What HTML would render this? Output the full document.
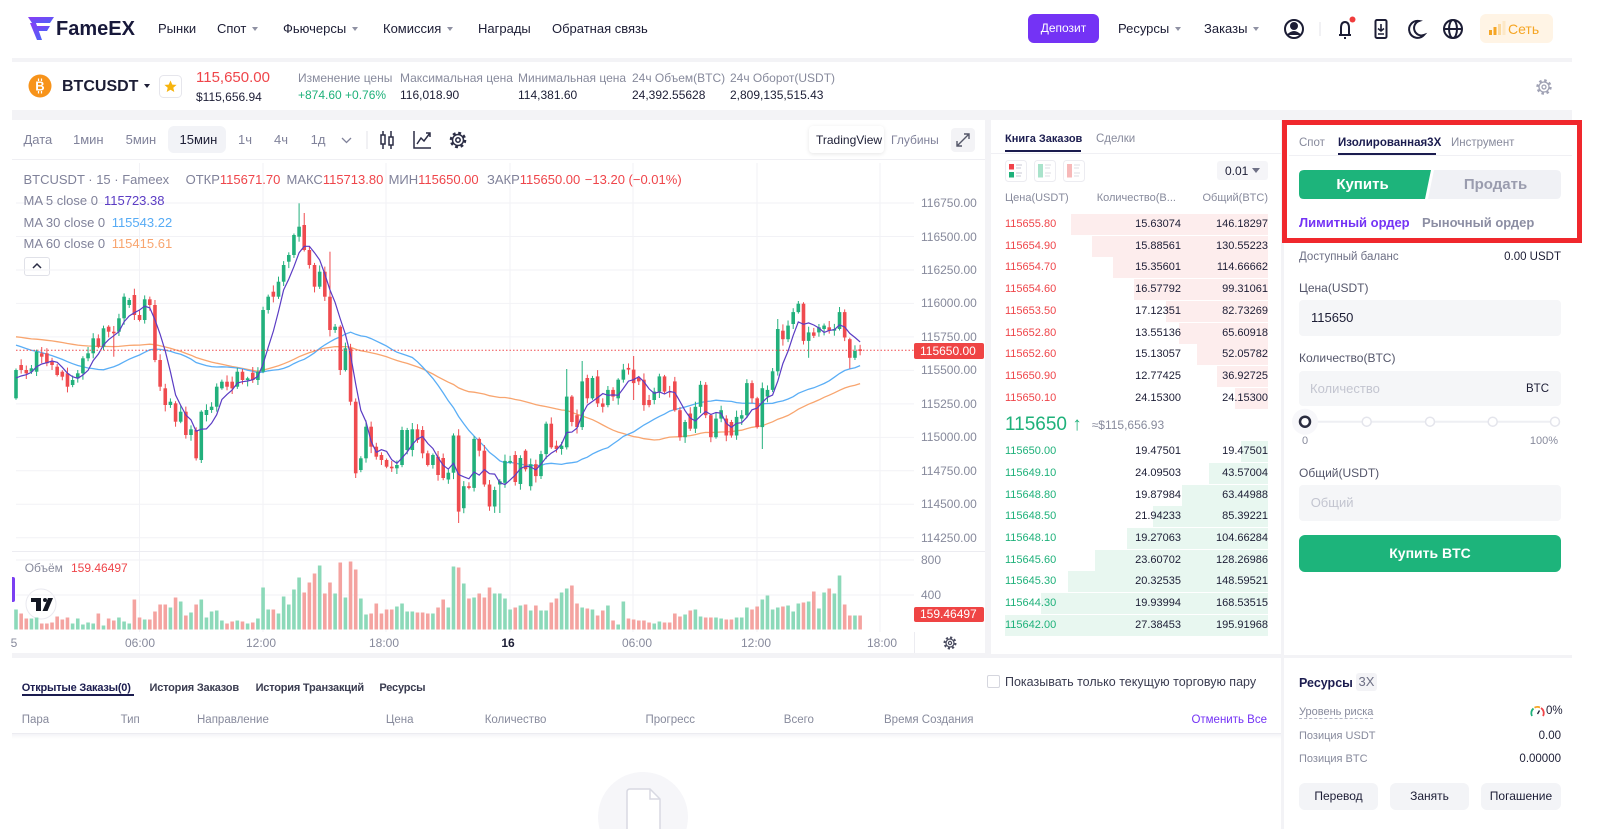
<!DOCTYPE html>
<html lang="ru"><head><meta charset="utf-8"><title>FameEX BTCUSDT</title>
<style>
*{margin:0;padding:0;box-sizing:border-box}
html,body{width:1600px;height:829px;overflow:hidden;background:#fff}
body{position:relative;font-family:"Liberation Sans","DejaVu Sans",sans-serif;color:#1c1d35;font-size:12px}
.a{position:absolute;white-space:nowrap;line-height:20px;height:20px}
.p{position:absolute}
.g{color:#878a9c}
.r{color:#ef454a}
.gr{color:#1eb17a}
.b{font-weight:bold}
.cr{display:inline-block;width:0;height:0;border-left:3.5px solid transparent;border-right:3.5px solid transparent;border-top:4.5px solid #8f91a3;vertical-align:middle;margin-left:6px;margin-top:-2px}
.row{position:absolute;left:1005px;width:263px;height:21px;font-size:11px;line-height:21px}
.row span{position:absolute;top:0}
.row .bar{position:absolute;top:0;height:21px;right:0}
.tc{position:absolute;width:40px;text-align:center;top:633px;line-height:20px;font-size:12px;color:#878a9c}
.btn{position:absolute;background:#f3f4f7;border-radius:6px;text-align:center;font-size:12px;line-height:27px;height:27px;top:783px;color:#1c1d35}
.inp{position:absolute;left:1299px;width:262px;background:#f5f6f8;border-radius:4px}
</style></head><body>

<!-- background panels -->
<div class="p" style="left:12px;top:58px;width:1560px;height:771px;background:#f3f3f6"></div>
<div class="p" style="left:12px;top:62px;width:1560px;height:48px;background:#fff"></div>
<div class="p" style="left:12px;top:120px;width:973px;height:533px;background:#fff"></div>
<div class="p" style="left:991px;top:120px;width:290px;height:534px;background:#fff"></div>
<div class="p" style="left:1284px;top:120px;width:288px;height:535px;background:#fff"></div>
<div class="p" style="left:12px;top:658px;width:1269px;height:171px;background:#fff"></div>
<div class="p" style="left:1284px;top:658px;width:288px;height:171px;background:#fff"></div>

<!-- boxes -->
<div class="p" style="left:1028px;top:14px;width:71px;height:29px;background:#7433f5;border-radius:6px;color:#fff;font-size:12px;line-height:29px;text-align:center">Депозит</div>
<div class="p" style="left:1480px;top:14px;width:73px;height:29px;background:#fff4e5;border-radius:6px"></div>
<div class="p" style="left:168px;top:126px;width:58px;height:27px;background:#f2f3f7;border-radius:6px"></div>
<div class="p" style="left:809px;top:126px;width:75px;height:27px;background:#fff;border-radius:4px;box-shadow:0 1px 4px rgba(0,0,0,.10)"></div>
<div class="p" style="left:951px;top:128px;width:24px;height:24px;background:#f3f3f6;border-radius:4px"></div>
<div class="p" style="left:12px;top:159px;width:973px;height:1px;background:#efeff3"></div>
<div class="p" style="left:24px;top:257px;width:26px;height:19px;border:1px solid #e0e1e8;border-radius:3px;background:#fff"></div>
<div class="p" style="left:12px;top:577px;width:3px;height:25px;background:#7b3ff2;border-radius:0 2px 2px 0"></div>
<div class="p" style="left:914px;top:632px;width:1px;height:21px;background:#ececf1"></div>

<div class="p" style="left:1005px;top:150px;width:76px;height:2px;background:#1b1c4f"></div>
<div class="p" style="left:991px;top:153px;width:290px;height:1px;background:#f0f0f4"></div>
<div class="p" style="left:1217px;top:161px;width:51px;height:19px;background:#f5f5f8;border-radius:3px"></div>

<div class="p" style="left:1338px;top:153px;width:98px;height:2px;background:#1b1c4f"></div>
<div class="p" style="left:1289px;top:155px;width:283px;height:1px;background:#f0f0f4"></div>
<div class="inp" style="top:300px;height:36px"></div>
<div class="inp" style="top:371px;height:35px"></div>
<div class="inp" style="top:485px;height:36px"></div>
<div class="p" style="left:1299px;top:535px;width:262px;height:37px;background:#1db47b;border-radius:6px;color:#fff;font-weight:bold;font-size:14px;line-height:37px;text-align:center">Купить BTC</div>

<div class="p" style="left:1356px;top:673px;width:21px;height:18px;background:#f3f3f6;border-radius:3px;color:#6e7085;font-size:13px;line-height:18px;text-align:center">3X</div>
<div class="p" style="left:1299px;top:718px;width:74px;height:0;border-top:1px dashed #b4b6c5"></div>
<div class="btn" style="left:1299px;width:79px">Перевод</div>
<div class="btn" style="left:1390px;width:79px">Занять</div>
<div class="btn" style="left:1481px;width:80px">Погашение</div>

<div class="p" style="left:22px;top:694px;width:112px;height:2px;background:#1b1c4f"></div>
<div class="p" style="left:987px;top:675px;width:13px;height:13px;border:1px solid #d5d6de;border-radius:2px;background:#fff"></div>
<div class="p" style="left:12px;top:733px;width:1269px;height:1px;background:#ececf1"></div>
<div class="p" style="left:12px;top:734px;width:1269px;height:5px;background:linear-gradient(#f4f4f7,#fff)"></div>

<!-- order book depth rows -->
<div class="row" style="top:213.8px"><div class="bar" style="left:66px;background:#fdeded"></div><span class="r" style="left:0">115655.80</span><span style="right:87px">15.63074</span><span style="right:0">146.18297</span></div>
<div class="row" style="top:235.55px"><div class="bar" style="left:87px;background:#fdeded"></div><span class="r" style="left:0">115654.90</span><span style="right:87px">15.88561</span><span style="right:0">130.55223</span></div>
<div class="row" style="top:257.3px"><div class="bar" style="left:108px;background:#fdeded"></div><span class="r" style="left:0">115654.70</span><span style="right:87px">15.35601</span><span style="right:0">114.66662</span></div>
<div class="row" style="top:279.05px"><div class="bar" style="left:129px;background:#fdeded"></div><span class="r" style="left:0">115654.60</span><span style="right:87px">16.57792</span><span style="right:0">99.31061</span></div>
<div class="row" style="top:300.8px"><div class="bar" style="left:161px;background:#fdeded"></div><span class="r" style="left:0">115653.50</span><span style="right:87px">17.12351</span><span style="right:0">82.73269</span></div>
<div class="row" style="top:322.55px"><div class="bar" style="left:174px;background:#fdeded"></div><span class="r" style="left:0">115652.80</span><span style="right:87px">13.55136</span><span style="right:0">65.60918</span></div>
<div class="row" style="top:344.3px"><div class="bar" style="left:192px;background:#fdeded"></div><span class="r" style="left:0">115652.60</span><span style="right:87px">15.13057</span><span style="right:0">52.05782</span></div>
<div class="row" style="top:366.05px"><div class="bar" style="left:212px;background:#fdeded"></div><span class="r" style="left:0">115650.90</span><span style="right:87px">12.77425</span><span style="right:0">36.92725</span></div>
<div class="row" style="top:387.8px"><div class="bar" style="left:230px;background:#fdeded"></div><span class="r" style="left:0">115650.10</span><span style="right:87px">24.15300</span><span style="right:0">24.15300</span></div>

<div class="row" style="top:441.2px"><div class="bar" style="left:236px;background:#e8f7f0"></div><span class="gr" style="left:0">115650.00</span><span style="right:87px">19.47501</span><span style="right:0">19.47501</span></div>
<div class="row" style="top:462.9px"><div class="bar" style="left:204px;background:#e8f7f0"></div><span class="gr" style="left:0">115649.10</span><span style="right:87px">24.09503</span><span style="right:0">43.57004</span></div>
<div class="row" style="top:484.6px"><div class="bar" style="left:177px;background:#e8f7f0"></div><span class="gr" style="left:0">115648.80</span><span style="right:87px">19.87984</span><span style="right:0">63.44988</span></div>
<div class="row" style="top:506.3px"><div class="bar" style="left:148px;background:#e8f7f0"></div><span class="gr" style="left:0">115648.50</span><span style="right:87px">21.94233</span><span style="right:0">85.39221</span></div>
<div class="row" style="top:528px"><div class="bar" style="left:122px;background:#e8f7f0"></div><span class="gr" style="left:0">115648.10</span><span style="right:87px">19.27063</span><span style="right:0">104.66284</span></div>
<div class="row" style="top:549.7px"><div class="bar" style="left:90px;background:#e8f7f0"></div><span class="gr" style="left:0">115645.60</span><span style="right:87px">23.60702</span><span style="right:0">128.26986</span></div>
<div class="row" style="top:571.4px"><div class="bar" style="left:63px;background:#e8f7f0"></div><span class="gr" style="left:0">115645.30</span><span style="right:87px">20.32535</span><span style="right:0">148.59521</span></div>
<div class="row" style="top:593.1px"><div class="bar" style="left:36px;background:#e8f7f0"></div><span class="gr" style="left:0">115644.30</span><span style="right:87px">19.93994</span><span style="right:0">168.53515</span></div>
<div class="row" style="top:614.8px"><div class="bar" style="left:0;background:#e8f7f0"></div><span class="gr" style="left:0">115642.00</span><span style="right:87px">27.38453</span><span style="right:0">195.91968</span></div>

<!-- SVG overlay: icons + chart -->
<svg class="p" style="left:0;top:0" width="1600" height="829" viewBox="0 0 1600 829" xmlns="http://www.w3.org/2000/svg">
<defs><linearGradient id="lg" x1="0" y1="0" x2="1" y2="1"><stop offset="0" stop-color="#8a3cf5"/><stop offset="1" stop-color="#4b63f7"/></linearGradient></defs>
<!-- logo -->
<polygon points="28,17 54,17 50,23 32,23" fill="url(#lg)"/>
<polygon points="34,26 50,26 47,31 37,31" fill="url(#lg)"/>
<polygon points="30,23 36,23 42,40 37,40" fill="url(#lg)"/>
<!-- nav icons -->
<g fill="none" stroke="#1c1d35" stroke-width="2">
<circle cx="1294" cy="29" r="9"/>
<circle cx="1294" cy="26" r="3" fill="#1c1d35"/>
<path d="M1288 35 Q1294 29 1300 35" fill="#1c1d35"/>
<path d="M1339 35 H1351 M1341 35 V28 Q1341 22 1345 22 Q1349 22 1349 28 V35 M1345 37 V39"/>
<rect x="1375.5" y="20" width="11" height="18" rx="1.5"/>
<path d="M1381 24 V31 M1378 28.5 L1381 31 L1384 28.5 M1378 34 H1384" stroke-width="1.6"/>
<path d="M1419 21 A8.5 8.5 0 1 0 1424 35 A7 7 0 0 1 1419 21 Z"/>
<circle cx="1453" cy="29" r="9"/>
<ellipse cx="1453" cy="29" rx="4" ry="9"/>
<path d="M1444 29 H1462"/>
</g>
<line x1="1320" y1="22" x2="1320" y2="36" stroke="#e3e3ea"/>
<circle cx="1352.5" cy="19.5" r="3" fill="#f03c3c"/>
<rect x="1489" y="30" width="3" height="5" fill="#f5a524"/>
<rect x="1493.5" y="27" width="3" height="8" fill="#f5a524"/>
<rect x="1498" y="24" width="3" height="11" fill="#fbd9a0"/>
<rect x="1502.5" y="21" width="3" height="14" fill="#fde8c6"/>
<!-- ticker -->
<circle cx="40" cy="86" r="11.5" fill="#f7931a"/>
<text x="40" y="90.5" font-family="Liberation Sans" font-weight="bold" font-size="13" fill="#fff" text-anchor="middle">B</text>
<path d="M38.5 78.5 V81 M41.5 78.5 V81 M38.5 91 V93.5 M41.5 91 V93.5" stroke="#fff" stroke-width="1.2"/>
<rect x="159.5" y="75.5" width="22" height="22" rx="4" fill="#fff" stroke="#e6e6ec"/>
<polygon points="170.5,80.5 172.3,84.6 176.6,84.9 173.3,87.7 174.3,92 170.5,89.7 166.7,92 167.7,87.7 164.4,84.9 168.7,84.6" fill="#f6b40e"/>
<g transform="translate(1544,87)" fill="none" stroke="#a0a2b4">
<circle r="6.5" stroke-width="2.4" stroke-dasharray="2.5 2.6"/><circle r="5" stroke-width="1.3"/><circle r="2" stroke-width="1.3"/></g>
<!-- toolbar icons -->
<path d="M342 138 L346.5 142.5 L351 138" fill="none" stroke="#80829a" stroke-width="1.3"/>
<line x1="367" y1="131" x2="367" y2="149" stroke="#e3e3ea"/>
<g stroke="#2b2d45" stroke-width="1.5" fill="#fff">
<line x1="383" y1="131" x2="383" y2="149"/><rect x="381" y="135" width="4" height="9"/>
<line x1="391" y1="131" x2="391" y2="149"/><rect x="389" y="137" width="4" height="8"/>
<path d="M414 131 V148 H431" fill="none"/>
<path d="M417 144 L421 138 L424 141 L430 133 M426 133 H430 V137" fill="none"/>
</g>
<g transform="translate(458,140)" fill="none" stroke="#2b2d45">
<circle r="7" stroke-width="2.6" stroke-dasharray="2.8 2.7"/><circle r="5.5" stroke-width="1.5"/><circle r="2.2" stroke-width="1.5"/></g>
<path d="M957 146 L969 134 M964 134 H969 V139 M957 141 V146 H962" fill="none" stroke="#555769" stroke-width="1.4"/>
<path d="M33 268 L37 264 L41 268" fill="none" stroke="#2b2d45" stroke-width="1.5"/>
<!-- tv logo -->
<circle cx="41" cy="604" r="15" fill="#fff" stroke="#e9e9ef"/>
<rect x="31" y="598" width="10" height="4" fill="#131722"/>
<rect x="36" y="598" width="5" height="13" fill="#131722"/>
<circle cx="45" cy="600" r="2" fill="#131722"/>
<polygon points="48,598 53,598 47.5,611 42.5,611" fill="#131722"/>
<g transform="translate(950,643)" fill="none" stroke="#4a4c60">
<circle r="5.5" stroke-width="2" stroke-dasharray="2.2 2.1"/><circle r="4" stroke-width="1.2"/><circle r="1.6" stroke-width="1.2"/></g>
<!-- order book icons -->
<rect x="1005.5" y="160.5" width="21" height="21" rx="3" fill="#fff" stroke="#ececf1"/>
<rect x="1009" y="164" width="5" height="5.5" fill="#f0424a"/><rect x="1009" y="172" width="5" height="5.5" fill="#1eb17a"/>
<path d="M1016 165 H1022 M1016 168 H1021 M1016 173 H1022 M1016 176 H1021" stroke="#c9cad4"/>
<rect x="1034.5" y="160.5" width="21" height="21" rx="3" fill="#fff" stroke="#ececf1"/>
<rect x="1038" y="164" width="5" height="13.5" fill="#a9e3cb"/>
<path d="M1045 165 H1051 M1045 168 H1050 M1045 173 H1051 M1045 176 H1050" stroke="#dcdce3"/>
<rect x="1063.5" y="160.5" width="21" height="21" rx="3" fill="#fff" stroke="#ececf1"/>
<rect x="1067" y="164" width="5" height="13.5" fill="#f7b9b9"/>
<path d="M1074 165 H1080 M1074 168 H1079 M1074 173 H1080 M1074 176 H1079" stroke="#dcdce3"/>
<polygon points="1252,168 1260,168 1256,173" fill="#6e7085"/>
<!-- buy / sell -->
<path d="M1304 170 H1431 L1425 199 H1304 Q1299 199 1299 194 V175 Q1299 170 1304 170 Z" fill="#1db47b"/>
<path d="M1434 170 H1556 Q1561 170 1561 175 V194 Q1561 199 1556 199 H1428 Z" fill="#f0f1f5"/>
<!-- slider -->
<line x1="1305" y1="421.7" x2="1555" y2="421.7" stroke="#eeeff3" stroke-width="2"/>
<circle cx="1305" cy="421.7" r="13" fill="#f7f7fa"/>
<g fill="#fff" stroke="#e4e5ec" stroke-width="1.5">
<circle cx="1366.7" cy="421.7" r="4.5"/><circle cx="1430" cy="421.7" r="4.5"/><circle cx="1492.7" cy="421.7" r="4.5"/><circle cx="1555" cy="421.7" r="4.5"/></g>
<circle cx="1305" cy="421.7" r="5" fill="#fff" stroke="#2b2d40" stroke-width="2.5"/>
<!-- gauge -->
<path d="M1532 716 A6 6 0 0 1 1533.5 708.5" fill="none" stroke="#1eb17a" stroke-width="1.8"/>
<path d="M1534.5 707.7 A6 6 0 0 1 1540 707.5" fill="none" stroke="#f5a524" stroke-width="1.8"/>
<path d="M1541 708 A6 6 0 0 1 1543 716" fill="none" stroke="#ef454a" stroke-width="1.8"/>
<line x1="1537.5" y1="714" x2="1539.5" y2="710.5" stroke="#1c1d35" stroke-width="1.3"/>
<!-- empty icon -->
<circle cx="643" cy="817" r="45" fill="#f6f6f9"/>
<path d="M627 829 V792 Q627 789 630 789 H650 L660 799 V829" fill="#fff" stroke="#d8d9e2" stroke-width="1.5"/>
<path d="M650 789 V799 H660" fill="none" stroke="#d8d9e2" stroke-width="1.5"/>
<g id="ch"></g>
</svg>

<!-- NAV text -->
<div class="a b" style="left:56px;top:18px;font-size:20px;line-height:22px;height:22px;color:#17183a">FameEX</div>
<div class="a" style="left:158px;top:19px;font-size:13px">Рынки</div>
<div class="a" style="left:217px;top:19px;font-size:13px">Спот<i class="cr"></i></div>
<div class="a" style="left:283px;top:19px;font-size:13px">Фьючерсы<i class="cr"></i></div>
<div class="a" style="left:383px;top:19px;font-size:13px">Комиссия<i class="cr"></i></div>
<div class="a" style="left:478px;top:19px;font-size:13px">Награды</div>
<div class="a" style="left:552px;top:19px;font-size:13px">Обратная связь</div>
<div class="a" style="left:1118px;top:19px;font-size:13px">Ресурсы<i class="cr"></i></div>
<div class="a" style="left:1204px;top:19px;font-size:13px">Заказы<i class="cr"></i></div>
<div class="a" style="left:1508px;top:18.5px;font-size:14px;color:#f5a524">Сеть</div>

<!-- TICKER text -->
<div class="a b" style="left:62px;top:77px;font-size:16px">BTCUSDT<i class="cr" style="border-top-color:#1c1d35;margin-left:6px"></i></div>
<div class="a r" style="left:196px;top:68px;font-size:15px">115,650.00</div>
<div class="a" style="left:196px;top:87px;font-size:12px">$115,656.94</div>
<div class="a g" style="left:298px;top:68px">Изменение цены</div>
<div class="a gr" style="left:298px;top:85px">+874.60 +0.76%</div>
<div class="a g" style="left:400px;top:68px">Максимальная цена</div>
<div class="a" style="left:400px;top:85px">116,018.90</div>
<div class="a g" style="left:518px;top:68px">Минимальная цена</div>
<div class="a" style="left:518px;top:85px">114,381.60</div>
<div class="a g" style="left:632px;top:68px">24ч Объем(BTC)</div>
<div class="a" style="left:632px;top:85px">24,392.55628</div>
<div class="a g" style="left:730px;top:68px">24ч Оборот(USDT)</div>
<div class="a" style="left:730px;top:85px">2,809,135,515.43</div>

<!-- TOOLBAR -->
<div class="a" style="left:23.5px;top:130px;font-size:13px;color:#80829a">Дата</div>
<div class="a" style="left:73px;top:130px;font-size:13px;color:#80829a">1мин</div>
<div class="a" style="left:125.6px;top:130px;font-size:13px;color:#80829a">5мин</div>
<div class="a" style="left:179.5px;top:130px;font-size:13px;color:#1c1d35">15мин</div>
<div class="a" style="left:238px;top:130px;font-size:13px;color:#80829a">1ч</div>
<div class="a" style="left:274px;top:130px;font-size:13px;color:#80829a">4ч</div>
<div class="a" style="left:310.6px;top:130px;font-size:13px;color:#80829a">1д</div>
<div class="a" style="left:816px;top:130px;font-size:12px">TradingView</div>
<div class="a" style="left:891px;top:130px;font-size:12px;color:#80829a">Глубины</div>

<!-- LEGEND -->
<div class="a" style="left:23.5px;top:170px;font-size:13px;color:#80829a">BTCUSDT · 15 · Fameex</div>
<div class="a" style="left:185.6px;top:170px;font-size:13px;color:#80829a">ОТКР<span class="r">115671.70</span></div>
<div class="a" style="left:286.5px;top:170px;font-size:13px;color:#80829a">МАКС<span class="r">115713.80</span></div>
<div class="a" style="left:388.6px;top:170px;font-size:13px;color:#80829a">МИН<span class="r">115650.00</span></div>
<div class="a" style="left:487px;top:170px;font-size:13px;color:#80829a">ЗАКР<span class="r">115650.00</span></div>
<div class="a r" style="left:584.8px;top:170px;font-size:13px">−13.20 (−0.01%)</div>
<div class="a" style="left:23.5px;top:191px;font-size:13px;color:#80829a">MA 5 close 0</div>
<div class="a" style="left:104px;top:191px;font-size:13px;color:#5b3cc4">115723.38</div>
<div class="a" style="left:23.5px;top:212.7px;font-size:13px;color:#80829a">MA 30 close 0</div>
<div class="a" style="left:111.7px;top:212.7px;font-size:13px;color:#56abf5">115543.22</div>
<div class="a" style="left:23.5px;top:234.3px;font-size:13px;color:#80829a">MA 60 close 0</div>
<div class="a" style="left:111.7px;top:234.3px;font-size:13px;color:#f8a56f">115415.61</div>

<!-- PRICE AXIS -->
<div class="a g" style="left:921px;top:193px">116750.00</div>
<div class="a g" style="left:921px;top:226.5px">116500.00</div>
<div class="a g" style="left:921px;top:260px">116250.00</div>
<div class="a g" style="left:921px;top:293.4px">116000.00</div>
<div class="a g" style="left:921px;top:326.9px">115750.00</div>
<div class="a g" style="left:921px;top:360.4px">115500.00</div>
<div class="a g" style="left:921px;top:393.9px">115250.00</div>
<div class="a g" style="left:921px;top:427.4px">115000.00</div>
<div class="a g" style="left:921px;top:460.8px">114750.00</div>
<div class="a g" style="left:921px;top:494.3px">114500.00</div>
<div class="a g" style="left:921px;top:527.8px">114250.00</div>
<div class="p" style="left:914px;top:342.5px;width:70px;height:16px;background:#ef4444;border-radius:2px;color:#fff;font-size:12px;line-height:16px;padding-left:6px">115650.00</div>

<!-- VOLUME -->
<div class="a g" style="left:24.7px;top:558px">Объём</div>
<div class="a r" style="left:71px;top:558px">159.46497</div>
<div class="a g" style="left:921px;top:550px">800</div>
<div class="a g" style="left:921px;top:585px">400</div>
<div class="p" style="left:914px;top:607px;width:70px;height:15px;background:#ef4444;border-radius:2px;color:#fff;font-size:12px;line-height:15px;padding-left:6px">159.46497</div>

<!-- TIME AXIS -->
<div class="tc" style="left:-6px">5</div>
<div class="tc" style="left:120px">06:00</div>
<div class="tc" style="left:241px">12:00</div>
<div class="tc" style="left:364px">18:00</div>
<div class="tc b" style="left:488px;color:#1c1d35">16</div>
<div class="tc" style="left:617px">06:00</div>
<div class="tc" style="left:736px">12:00</div>
<div class="tc" style="left:862px">18:00</div>

<!-- ORDER BOOK text -->
<div class="a b" style="left:1005px;top:129px;font-size:11px;color:#1b1c4f">Книга Заказов</div>
<div class="a g" style="left:1096px;top:129px;font-size:11.5px">Сделки</div>
<div class="a" style="left:1225px;top:160.5px;font-size:12px">0.01</div>
<div class="a g" style="left:1005px;top:187.7px;font-size:11px">Цена(USDT)</div>
<div class="a g" style="left:1096.7px;top:187.7px;font-size:11px">Количество(В...</div>
<div class="a g" style="right:332px;top:187.7px;font-size:11px">Общий(BTC)</div>
<div class="a gr" style="left:1005px;top:415px;font-size:19px;line-height:20px">115650 ↑</div>
<div class="a g" style="left:1091.7px;top:415px;font-size:12px">≈$115,656.93</div>

<!-- RIGHT PANEL text -->
<div class="a g" style="left:1299px;top:132.7px;font-size:11.5px">Спот</div>
<div class="a b" style="left:1338px;top:132.7px;font-size:11.5px;color:#1b1c4f">Изолированная3X</div>
<div class="a g" style="left:1451px;top:132.7px;font-size:11.5px">Инструмент</div>
<div class="a b" style="left:1299px;top:174.5px;width:127px;text-align:center;font-size:15px;color:#fff">Купить</div>
<div class="a b" style="left:1430px;top:174.5px;width:131px;text-align:center;font-size:15px;color:#9a9cae">Продать</div>
<div class="a b" style="left:1299px;top:212.7px;font-size:13px;color:#7433f5">Лимитный ордер</div>
<div class="a b" style="left:1422px;top:212.7px;font-size:13px;color:#8c8ea3">Рыночный ордер</div>
<div class="a" style="left:1299px;top:246.7px;font-size:11.5px;color:#6e7085">Доступный баланс</div>
<div class="a" style="right:39px;top:246.7px;font-size:11.5px">0.00 USDT</div>
<div class="a" style="left:1299px;top:277.7px;font-size:12px;color:#55576b">Цена(USDT)</div>
<div class="a" style="left:1311px;top:308px;font-size:13px">115650</div>
<div class="a" style="left:1299px;top:348.3px;font-size:12px;color:#55576b">Количество(BTC)</div>
<div class="a" style="left:1310px;top:378.5px;font-size:13px;color:#c3c5d0">Количество</div>
<div class="a" style="right:51px;top:378.5px;font-size:11.5px">BTC</div>
<div class="a g" style="left:1302px;top:431px;font-size:11px">0</div>
<div class="a g" style="right:42px;top:431px;font-size:11px">100%</div>
<div class="a" style="left:1299px;top:462.7px;font-size:12px;color:#55576b">Общий(USDT)</div>
<div class="a" style="left:1310.7px;top:493px;font-size:13px;color:#c3c5d0">Общий</div>

<div class="a b" style="left:1299px;top:672.7px;font-size:12.5px;color:#1b1c4f">Ресурсы</div>
<div class="a g" style="left:1299px;top:701.7px;font-size:11px">Уровень риска</div>
<div class="a" style="left:1546px;top:701px;font-size:11.5px">0%</div>
<div class="a g" style="left:1299px;top:725.7px;font-size:11px">Позиция USDT</div>
<div class="a" style="right:39px;top:725.7px;font-size:11.5px">0.00</div>
<div class="a g" style="left:1299px;top:749px;font-size:11px">Позиция BTC</div>
<div class="a" style="right:39px;top:749px;font-size:11.5px">0.00000</div>

<!-- BOTTOM LEFT text -->
<div class="a b" style="left:21.7px;top:678px;font-size:11px;letter-spacing:-0.2px;color:#1b1c4f">Открытые Заказы(0)</div>
<div class="a b" style="left:149.5px;top:678px;font-size:11px;letter-spacing:-0.2px;color:#3a3c50">История Заказов</div>
<div class="a b" style="left:255.6px;top:678px;font-size:11px;letter-spacing:-0.2px;color:#3a3c50">История Транзакций</div>
<div class="a b" style="left:379.4px;top:678px;font-size:11px;letter-spacing:-0.2px;color:#3a3c50">Ресурсы</div>
<div class="a" style="left:1005px;top:672px;font-size:12.5px;color:#3a3c50">Показывать только текущую торговую пару</div>
<div class="a g" style="left:21.7px;top:710px;font-size:11.5px">Пара</div>
<div class="a g" style="left:120.6px;top:710px;font-size:11.5px">Тип</div>
<div class="a g" style="left:197px;top:710px;font-size:11.5px">Направление</div>
<div class="a g" style="left:385.9px;top:710px;font-size:11.5px">Цена</div>
<div class="a g" style="left:484.7px;top:710px;font-size:11.5px">Количество</div>
<div class="a g" style="left:645.5px;top:710px;font-size:11.5px">Прогресс</div>
<div class="a g" style="left:783.8px;top:710px;font-size:11.5px">Всего</div>
<div class="a g" style="left:884px;top:710px;font-size:11.5px">Время Создания</div>
<div class="a" style="right:333px;top:710px;font-size:11.5px;color:#7433f5">Отменить Все</div>

<!-- highlight frame -->
<div class="p" style="left:1282px;top:120px;width:300px;height:123px;border:5px solid #f0282d"></div>

<script>
(function(){
var C=[[370,398.3,1],[365,370,0],[370,373.3,0],[368.3,371.7,1],[351.7,371.7,1],[353.3,356.7,0],[353.3,363.3,0],[361.7,365,0],[366.7,375,0],[371.7,376.7,0],
[373.3,386.7,0],[380,385,1],[373.3,378.3,1],[358.3,373.3,1],[353.3,358.3,1],[338.3,353.3,1],[338.3,346.7,0],[328.3,346.7,1],[326.7,331.7,0],[331.7,333.3,0],
[318.3,331.7,1],[296.7,318.3,1],[300,305,1],[295,315,0],[315,320,0],[299.3,320,1],[299.3,305,0],[305,360,0],[360,386.7,0],[388.3,405,0],
[401.7,405,1],[403.3,421.7,0],[411.7,421.7,1],[411.7,435,0],[429.3,435,1],[430,458.3,0],[411.7,460,1],[410,415,1],[406.7,410,1],[386.7,406.7,1],
[381.7,388.3,1],[381.7,386.7,0],[381.7,388.3,0],[371.7,386.7,1],[371.7,380,0],[378.3,380,1],[372.7,380,0],[371.7,380,1],[310,371.7,1],[296.7,310,1],
[291.7,296.7,0],[281.7,296.7,1],[265,281.7,1],[255,261.7,1],[235,255,1],[226.7,236.7,1],[225,250,0],[250,265,0],[265,286.7,0],[271.7,286.7,1],
[271.7,296.7,0],[296.7,330,0],[326.7,330,1],[326.7,370,0],[348.3,370,1],[348.3,401.7,0],[401.7,473.3,0],[458.3,470,1],[426.7,458.3,1],[426.7,446.7,0],
[446.7,456.7,0],[455,460,0],[460,466.7,0],[466.7,468.3,0],[465,468.3,1],[430,465,1],[430,450,1],[429.3,450,1],[429.3,440,0],[430,453.3,0],
[453.3,465,0],[455,465,1],[456.7,475,0],[458,478,0],[472.7,479.5,1],[435.5,472.7,1],[435.5,511.6,0],[486.2,508.2,1],[486.2,487.9,0],[438.9,487.9,1],
[438.9,450.7,0],[450.7,484.5,0],[484.5,506.5,0],[490,506.5,1],[481.2,484.5,1],[460.9,482.8,1],[460.9,462.6,1],[455,482,0],[458,484,1],[450.7,469.3,0],
[464.2,486.2,1],[464.2,476.1,0],[454.1,476.1,1],[423.7,454.1,1],[423.7,447.3,0],[445.7,449,0],[445.7,449,1],[396.6,447.3,1],[396.6,422,0],[415.2,427.1,0],
[381.4,427.1,1],[378,398.3,0],[378,398.3,1],[376.4,403.4,0],[403.4,406.8,0],[389.9,405.1,1],[389.9,396.6,0],[379.7,398.3,1],[369.6,379.7,1],[367.9,369.6,0],
[369.6,383.1,0],[378,381.4,0],[379.7,405.1,0],[400,405.1,0],[391.6,400,1],[376.4,391.6,1],[376.4,391.6,0],[391.6,392.5,0],[381.4,410.2,0],[410.2,437.2,0],
[422,437.2,1],[413.5,428.7,0],[406.8,428.7,1],[384.8,406.8,1],[384.8,415.2,0],[415.2,437.2,0],[418.6,437.2,1],[410.2,418.6,1],[418.6,435.5,0],[422,435.5,0],
[416.9,435.5,1],[415.2,418.6,1],[383.1,415.2,1],[383.1,398.3,0],[398.3,427.1,0],[388.2,427.1,1],[389.9,396.6,1],[371.3,389.9,1],[329,371.3,1],[330.7,339.2,0],
[325.6,339.2,1],[312.1,324,1],[303.7,312.1,1],[303.7,340.9,0],[332.4,340.9,1],[332.4,335.8,0],[327.3,332.4,1],[325.6,329,1],[327.3,330.7,0],[329,330.7,1],
[312.1,329,1],[312.1,337.5,0],[339.2,357.8,0],[351,357.8,1],[349.3,351,0]];
var V=[20,16,11,11,12,6,6,7,13,10,12,6,11,5,7,6,16,4,11,9,12,8,6,30,12,10,10,18,25,25,22,32,28,14,17,25,30,12,18,19,9,6,8,9,8,6,7,11,42,20,20,16,33,25,40,52,37,47,56,64,36,47,36,67,32,68,60,31,15,16,26,16,20,20,23,26,18,18,17,17,16,16,22,30,22,63,62,46,31,32,36,32,42,36,36,31,20,22,24,25,19,24,19,19,27,31,37,41,44,26,22,21,20,14,19,24,9,5,28,11,10,9,9,7,6,8,7,7,16,13,15,19,20,13,12,12,12,11,10,10,12,12,22,20,23,30,34,20,22,23,24,18,26,27,28,38,21,37,41,36,54,25,14,14,14];
var G='#22b07c',R='#ef4b4f';
function X(i){return 16+i*5.147;}
var s='';
for(var k=0;k<11;k++){var y=(203+k*33.48).toFixed(1);s+='<line x1="16" x2="914" y1="'+y+'" y2="'+y+'" stroke="#f2f2f6"/>';}
[139.5,263,386,510,633,757,880].forEach(function(x){s+='<line x1="'+x+'" x2="'+x+'" y1="163" y2="632" stroke="#f2f2f6"/>';});
s+='<line x1="16" x2="914" y1="560" y2="560" stroke="#f2f2f6"/><line x1="16" x2="914" y1="595" y2="595" stroke="#f2f2f6"/>';
s+='<line x1="12" x2="985" y1="551.5" y2="551.5" stroke="#ececf1"/>';
var i;
for(i=0;i<C.length;i++){var h=V[i]||8;s+='<rect x="'+(X(i)-1.8).toFixed(2)+'" y="'+(629.5-h)+'" width="3.6" height="'+h+'" fill="'+(C[i][2]?'#8cd9b9':'#f4a3a0')+'"/>';}
var cl=C.map(function(c){return c[2]?c[0]:c[1];});
var full=[],j;
for(j=0;j<30;j++)full.push(328.4);
for(j=0;j<17;j++)full.push(319);
for(j=0;j<12;j++)full.push(380);
full=full.concat(cl);
function ma(n,col,w){var pts=[];for(var q=0;q<cl.length;q++){var sm=0;for(var t=0;t<n;t++)sm+=full[59+q-t];pts.push(X(q).toFixed(1)+','+(sm/n).toFixed(1));}return '<polyline points="'+pts.join(' ')+'" fill="none" stroke="'+col+'" stroke-width="'+w+'"/>';}
s+=ma(60,'#f8a56f',1.3)+ma(30,'#5aaef6',1.3);
var OV={19:[0,356.7],27:[300,0],36:[0,463],55:[203.3,0],56:[213,0],61:[251.7,0],66:[0,478],86:[0,523],94:[0,513],107:[369,0],110:[361,0],120:[356,400],145:[0,449],148:[319,0],152:[301,0],154:[0,357.8],160:[307,0],162:[0,368.6]};
for(i=0;i<C.length;i++){var c=C[i],col=c[2]?G:R,tp=c[0],bt=c[1];
var hi=tp-(1.5+((i*7)%9)*0.6),lo=bt+(1.5+((i*11)%8)*0.7);
if(OV[i]){if(OV[i][0])hi=OV[i][0];if(OV[i][1])lo=OV[i][1];}
var x=X(i).toFixed(2);
s+='<line x1="'+x+'" x2="'+x+'" y1="'+hi.toFixed(1)+'" y2="'+lo.toFixed(1)+'" stroke="'+col+'" stroke-width="1"/>';
s+='<rect x="'+(X(i)-1.8).toFixed(2)+'" y="'+tp+'" width="3.6" height="'+Math.max(bt-tp,1).toFixed(1)+'" fill="'+col+'"/>';}
s+=ma(5,'#5b3cc4',1.2);
s+='<line x1="16" x2="914" y1="350.3" y2="350.3" stroke="#ef4b4f" stroke-width="1" stroke-dasharray="1.5 2"/>';
document.getElementById('ch').innerHTML=s;
})();
</script>
</body></html>
